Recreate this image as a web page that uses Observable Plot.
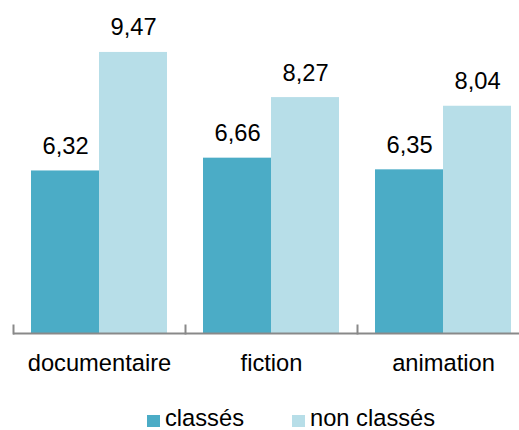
<!DOCTYPE html>
<html>
<head>
<meta charset="utf-8">
<script src="https://cdn.jsdelivr.net/npm/d3@7"></script>
<script src="https://cdn.jsdelivr.net/npm/@observablehq/plot@0.6"></script>
<style>
  body { margin: 0; background: #fff; font-family: "Liberation Sans", Arial, sans-serif; }
  #legend { display: flex; align-items: baseline; padding-left: 147px; margin-top: 20px; font-size: 23.7px; color: #000; }
  #legend .item { display: flex; align-items: baseline; }
  #legend .sw { display: inline-block; width: 13px; height: 12.5px; margin-right: 5px; position: relative; top: 1px; }
</style>
</head>
<body>
<div id="chart"></div>
<script>
const categories = ["documentaire", "fiction", "animation"];
const series = ["classés", "non classés"];
const valuesClasses = [6.32, 6.66, 6.35];
const valuesNonClasses = [9.47, 8.27, 8.04];
const colors = ["#4bacc6", "#b7dee8"];
const yDomain = [2, 10];

const data = [];
categories.forEach((c, i) => {
  data.push({cat: c, serie: series[0], value: valuesClasses[i]});
  data.push({cat: c, serie: series[1], value: valuesNonClasses[i]});
});
const fmt = v => v.toFixed(2).replace(".", ",");

const plot = Plot.plot({
  width: 519,
  height: 385,
  marginTop: 32,
  marginBottom: 52,
  marginLeft: 13,
  marginRight: -10,
  style: {fontFamily: "Liberation Sans, Arial, sans-serif", fontSize: "23.7px", color: "#000", overflow: "hidden"},
  fx: {domain: categories, padding: 0, label: null},
  x: {domain: series, paddingInner: 0, paddingOuter: 0.2464, axis: null},
  y: {domain: yDomain, axis: null},
  color: {domain: series, range: colors},
  marks: [
    Plot.barY(data, {fx: "cat", x: "serie", y1: yDomain[0], y2: "value", fill: "serie"}),
    Plot.text(data, {fx: "cat", x: "serie", y: "value", text: d => fmt(d.value), lineAnchor: "bottom", dy: -17, fill: "#000", fontSize: 23.7}),
    Plot.ruleY([yDomain[0]], {stroke: "#898989", strokeWidth: 2}),
    Plot.frame({anchor: "left", stroke: "#898989", strokeWidth: 2, insetTop: 293}),
    Plot.axisFx({anchor: "bottom", tickSize: 0, tickPadding: 20.5, fontSize: 23.7, label: null, fill: "#000"})
  ]
});
document.getElementById("chart").appendChild(plot);

const color = plot.scale("color");
const legend = document.createElement("div");
legend.id = "legend";
series.forEach((s, i) => {
  const item = document.createElement("div");
  item.className = "item";
  item.style.marginRight = i === 0 ? "48px" : "0";
  const sw = document.createElement("span");
  sw.className = "sw";
  sw.style.background = color.apply(s);
  const t = document.createElement("span");
  t.textContent = s;
  item.appendChild(sw);
  item.appendChild(t);
  legend.appendChild(item);
});
document.body.appendChild(legend);
</script>
</body>
</html>
